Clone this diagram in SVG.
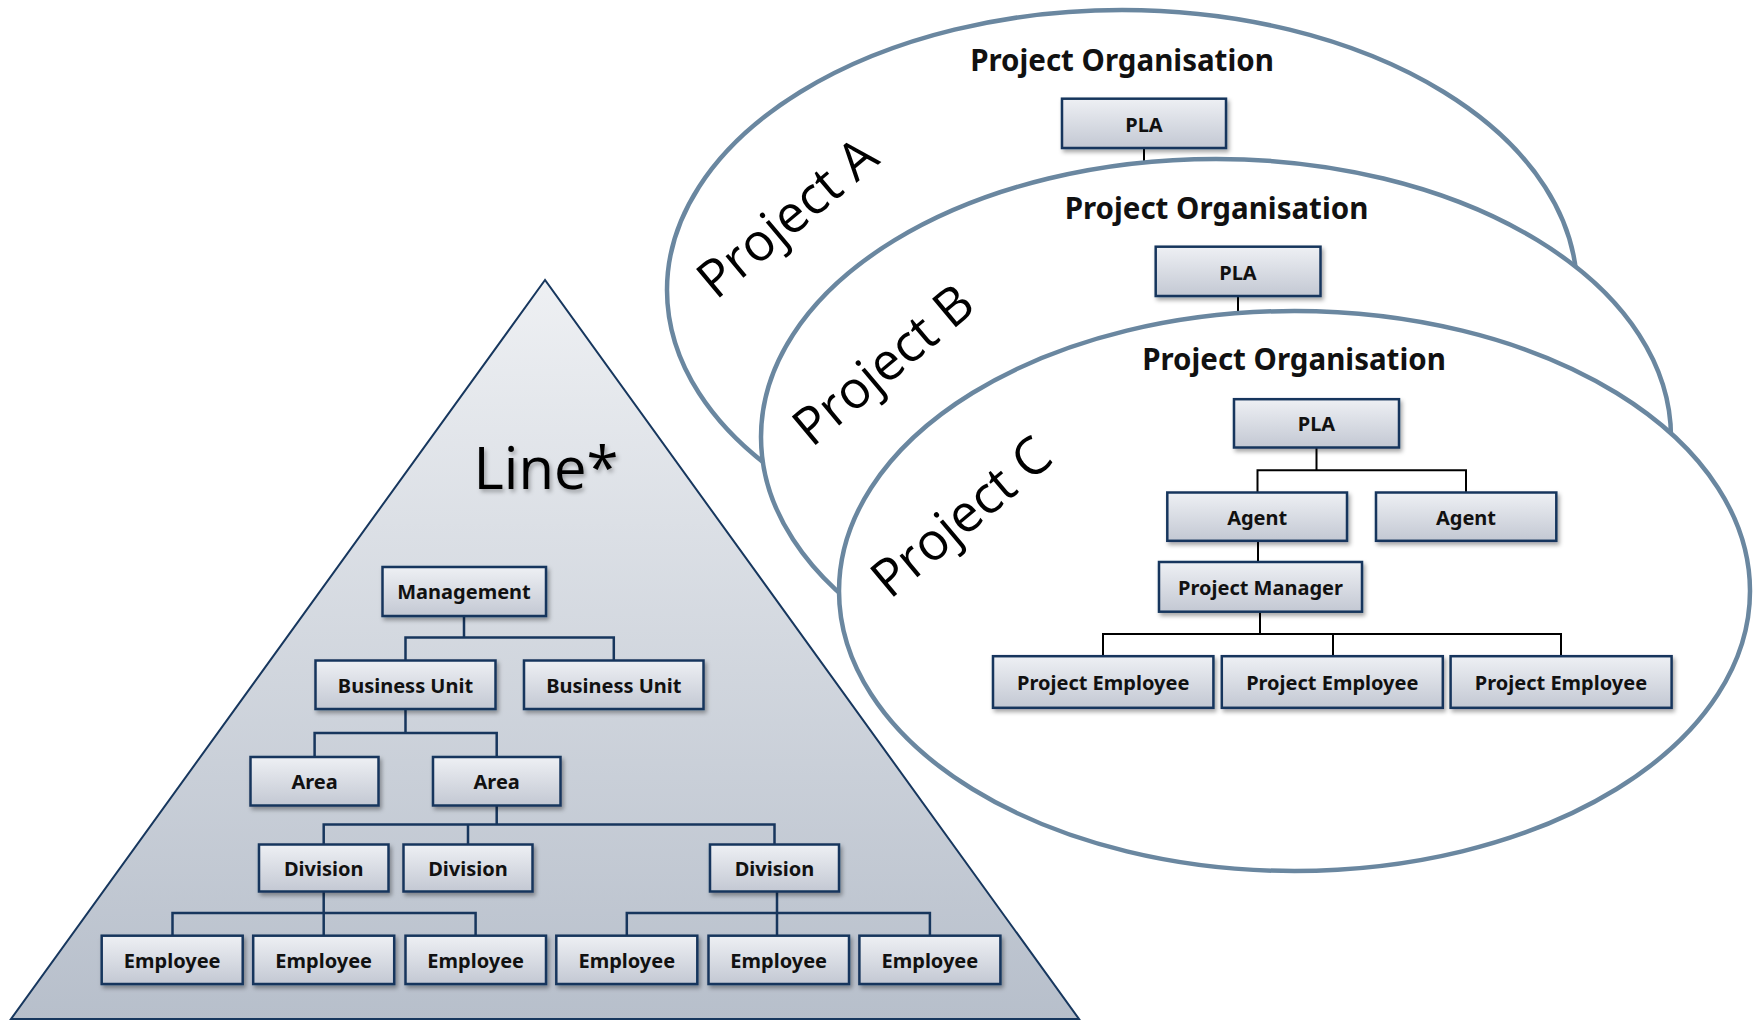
<svg xmlns="http://www.w3.org/2000/svg" width="1759" height="1021" viewBox="0 0 1759 1021">
<style>
.box{fill:url(#boxGrad);stroke:#17365d;stroke-width:2.5;filter:url(#shadow)}
.bt{font-family:"Noto Sans","Liberation Sans",sans-serif;font-weight:700;font-size:20px;fill:#111;text-anchor:middle}
.title{font-family:"Noto Sans","Liberation Sans",sans-serif;font-weight:700;font-size:29.5px;fill:#111;text-anchor:middle}
.plabel{font-family:"Open Sans","DejaVu Sans",sans-serif;font-size:52px;fill:#000}
.ell{fill:#fff;stroke:#6a87a0;stroke-width:4.5}
.cn{fill:none;stroke:#17365d;stroke-width:2.5}
.cb{fill:none;stroke:#000;stroke-width:2}
</style>
<defs>
<linearGradient id="boxGrad" x1="0" y1="0" x2="0" y2="1">
<stop offset="0" stop-color="#eef0f4"/>
<stop offset="1" stop-color="#c3c8d3"/>
</linearGradient>
<linearGradient id="triGrad" x1="0" y1="0" x2="0" y2="1">
<stop offset="0" stop-color="#eef0f3"/>
<stop offset="1" stop-color="#b7bfcb"/>
</linearGradient>
<filter id="shadow" x="-10%" y="-20%" width="130%" height="150%">
<feDropShadow dx="2" dy="3" stdDeviation="2" flood-color="#000" flood-opacity="0.35"/>
</filter>
<filter id="tshadow" x="-10%" y="-10%" width="130%" height="130%">
<feDropShadow dx="2" dy="3" stdDeviation="2" flood-color="#000" flood-opacity="0.3"/>
</filter>
</defs>

<g id="line-pyramid">
<polygon points="545,280 11,1019 1079,1019" fill="url(#triGrad)" stroke="#17375e" stroke-width="2"/>
<text x="546" y="489" text-anchor="middle" font-family="Open Sans, DejaVu Sans, sans-serif" font-size="58" fill="#000" filter="url(#tshadow)">Line*</text>
</g>

<g id="projectA">
<ellipse class="ell" cx="1122" cy="290" rx="455" ry="280"/>
<text class="title" x="1122" y="70.7">Project Organisation</text>
<text class="plabel" transform="translate(716,300.7) rotate(-40)">Project A</text>
<path class="cb" d="M1144,148 V170"/>
<g id="plaA"><rect class="box" x="1062" y="98.7" width="164" height="49.3"/><text class="bt" x="1144" y="131.5">PLA</text></g>
</g>

<g id="projectB">
<ellipse class="ell" cx="1216" cy="437" rx="455" ry="278"/>
<text class="title" x="1216.5" y="219">Project Organisation</text>
<text class="plabel" transform="translate(811.7,448.3) rotate(-40)">Project B</text>
<path class="cb" d="M1238,296 V320"/>
<g id="plaB"><rect class="box" x="1155.7" y="246.7" width="164.8" height="49.3"/><text class="bt" x="1238" y="279.5">PLA</text></g>
</g>

<g id="projectC">
<ellipse class="ell" cx="1294.5" cy="591" rx="455.5" ry="280"/>
<text class="title" x="1294" y="370">Project Organisation</text>
<text class="plabel" transform="translate(890,600) rotate(-40)">Project C</text>
</g>

<g id="connectors">
<path class="cn" d="M464,616 V637.6 M405.5,660.5 V637.6 H613.8 V660.5"/>
<path class="cn" d="M405.5,709 V733 M314.6,757 V733 H496.7 V757"/>
<path class="cn" d="M496.7,805.5 V824.5 M323.7,844.5 V824.5 H774.5 V844.5 M468,824.5 V844.5"/>
<path class="cn" d="M323.7,891.5 V913 M172.5,935.7 V913 H475.6 V935.7 M323.7,913 V935.7"/>
<path class="cn" d="M777,891.5 V913 M626.8,935.7 V913 H929.9 V935.7 M777,913 V935.7"/>
<path class="cb" d="M1316.5,447.5 V470.3 M1257.5,492.5 V470.3 H1466 V492.5"/>
<path class="cb" d="M1258,540.8 V562"/>
<path class="cb" d="M1260,611.7 V634 M1103,656.2 V634 H1561 V656.2 M1333,634 V656.2"/>
</g>

<g id="management"><rect class="box" x="382.5" y="567" width="163.5" height="49"/><text class="bt" x="464" y="599">Management</text></g>
<g id="bu1"><rect class="box" x="315.5" y="660.5" width="180" height="48.5"/><text class="bt" x="405.5" y="692.5">Business Unit</text></g>
<g id="bu2"><rect class="box" x="524" y="660.5" width="179.5" height="48.5"/><text class="bt" x="613.8" y="692.5">Business Unit</text></g>
<g id="area1"><rect class="box" x="250.5" y="757" width="128" height="48.5"/><text class="bt" x="314.6" y="789">Area</text></g>
<g id="area2"><rect class="box" x="433" y="757" width="127.5" height="48.5"/><text class="bt" x="496.7" y="789">Area</text></g>
<g id="div1"><rect class="box" x="259" y="844.5" width="129.5" height="47"/><text class="bt" x="323.7" y="875.5">Division</text></g>
<g id="div2"><rect class="box" x="403.5" y="844.5" width="129" height="47"/><text class="bt" x="468" y="875.5">Division</text></g>
<g id="div3"><rect class="box" x="710" y="844.5" width="129" height="47"/><text class="bt" x="774.5" y="875.5">Division</text></g>
<g id="emp1"><rect class="box" x="101.7" y="935.7" width="141" height="48.3"/><text class="bt" x="172.2" y="967.8">Employee</text></g>
<g id="emp2"><rect class="box" x="253.2" y="935.7" width="141" height="48.3"/><text class="bt" x="323.7" y="967.8">Employee</text></g>
<g id="emp3"><rect class="box" x="405.5" y="935.7" width="140.5" height="48.3"/><text class="bt" x="475.7" y="967.8">Employee</text></g>
<g id="emp4"><rect class="box" x="556.3" y="935.7" width="141" height="48.3"/><text class="bt" x="626.8" y="967.8">Employee</text></g>
<g id="emp5"><rect class="box" x="708.5" y="935.7" width="140.5" height="48.3"/><text class="bt" x="778.7" y="967.8">Employee</text></g>
<g id="emp6"><rect class="box" x="859.4" y="935.7" width="141" height="48.3"/><text class="bt" x="929.9" y="967.8">Employee</text></g>

<g id="plaC"><rect class="box" x="1234" y="399.2" width="165" height="48.3"/><text class="bt" x="1316.5" y="431.3">PLA</text></g>
<g id="agent1"><rect class="box" x="1167.3" y="492.5" width="179.7" height="48.3"/><text class="bt" x="1257.2" y="524.6">Agent</text></g>
<g id="agent2"><rect class="box" x="1376" y="492.5" width="180.3" height="48.3"/><text class="bt" x="1466" y="524.6">Agent</text></g>
<g id="pm"><rect class="box" x="1159" y="562" width="203" height="49.7"/><text class="bt" x="1260.5" y="594.8">Project Manager</text></g>
<g id="pe1"><rect class="box" x="993" y="656.2" width="220.4" height="51.6"/><text class="bt" x="1103.2" y="690">Project Employee</text></g>
<g id="pe2"><rect class="box" x="1221.8" y="656.2" width="221" height="51.6"/><text class="bt" x="1332.3" y="690">Project Employee</text></g>
<g id="pe3"><rect class="box" x="1450.6" y="656.2" width="221" height="51.6"/><text class="bt" x="1561" y="690">Project Employee</text></g>
</svg>
